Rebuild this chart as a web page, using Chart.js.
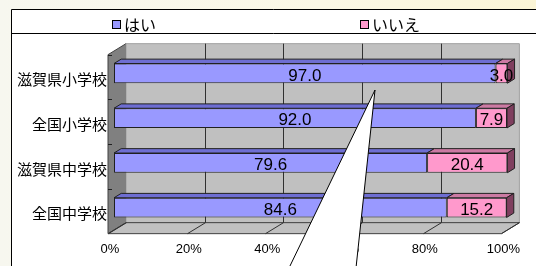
<!DOCTYPE html>
<html>
<head>
<meta charset="utf-8">
<script src="https://cdn.jsdelivr.net/npm/chart.js@4/dist/chart.umd.min.js"></script>
<style>
  html, body { margin: 0; padding: 0; }
  body { width: 536px; height: 266px; background: linear-gradient(90deg, #f7f7ef 0%, #fbf8e6 60%, #fbf5d6 100%); overflow: hidden; }
  #wrap { position: relative; width: 536px; height: 266px; }
</style>
</head>
<body>
<div id="wrap"><canvas id="chart" width="536" height="266"></canvas></div>
<script>
// データ
var schools = ['滋賀県小学校', '全国小学校', '滋賀県中学校', '全国中学校'];
var yesValues = [97.0, 92.0, 79.6, 84.6];
var noValues = [3.0, 7.9, 20.4, 15.2];
var legendNames = ['はい', 'いいえ'];
var pctTicks = [0, 20, 40, 60, 80, 100];

var jpFont = '"Noto Sans CJK JP", sans-serif';
var numFont = '"Liberation Sans", Arial, sans-serif';

// 奥行き (壁・床) と棒の奥行き
var DX = 18, DY = 11;
var BAR_DX = 7.2, BAR_DY = 4.4;

function depthPt(x, y, d) {
  return [x + (d - 1 / 3) * DX, y - (d - 1 / 3) * DY];
}

function poly(ctx, pts, fill, stroke) {
  ctx.beginPath();
  ctx.moveTo(pts[0][0], pts[0][1]);
  for (var i = 1; i < pts.length; i++) ctx.lineTo(pts[i][0], pts[i][1]);
  ctx.closePath();
  if (fill) { ctx.fillStyle = fill; ctx.fill(); }
  if (stroke) { ctx.strokeStyle = stroke; ctx.lineWidth = 1; ctx.stroke(); }
}

var faceColors = [
  { top: '#6e6ed2', side: '#5050a0' },
  { top: '#cc7aa3', side: '#7f3f5f' }
];
var legendColors = ['#9999ff', '#ff99cc'];

var threeD = {
  id: 'threeD',
  beforeDraw: function(chart) {
    var ctx = chart.ctx;
    ctx.save();
    // 白い枠
    ctx.fillStyle = '#ffffff';
    ctx.fillRect(11, 9, 536, 266);
    ctx.strokeStyle = '#000000';
    ctx.lineWidth = 1;
    ctx.beginPath();
    ctx.moveTo(11.5, 266); ctx.lineTo(11.5, 9.5); ctx.lineTo(536, 9.5);
    ctx.moveTo(11.5, 33.5); ctx.lineTo(536, 33.5);
    ctx.stroke();

    // 凡例
    var lx = [112, 360];
    ctx.font = '16px ' + jpFont;
    ctx.textBaseline = 'middle';
    ctx.textAlign = 'left';
    for (var i = 0; i < legendNames.length; i++) {
      ctx.fillStyle = legendColors[i];
      ctx.fillRect(lx[i] + 0.5, 20.5, 8, 8);
      ctx.strokeStyle = '#000';
      ctx.strokeRect(lx[i] + 0.5, 20.5, 8, 8);
      ctx.fillStyle = '#000';
      ctx.fillText(legendNames[i], lx[i] + 12, 24.5);
    }
    ctx.restore();
  },
  beforeDatasetsDraw: function(chart) {
    var ctx = chart.ctx;
    var a = chart.chartArea;
    var xs = chart.scales.x;
    var L = a.left, R = a.right, T = a.top, B = a.bottom;
    ctx.save();
    // 側壁
    poly(ctx, [depthPt(L, T, 0), depthPt(L, T, 1), depthPt(L, B, 1), depthPt(L, B, 0)], '#808080', '#404040');
    // 奥の壁
    poly(ctx, [depthPt(L, T, 1), depthPt(R, T, 1), depthPt(R, B, 1), depthPt(L, B, 1)], '#c0c0c0', '#a0a0a0');
    // 床
    poly(ctx, [depthPt(L, B, 0), depthPt(R, B, 0), depthPt(R, B, 1), depthPt(L, B, 1)], '#c0c0c0', '#404040');

    // 目盛線
    ctx.strokeStyle = '#303030';
    ctx.lineWidth = 1;
    pctTicks.forEach(function(v) {
      var x = Math.round(xs.getPixelForValue(v));
      var p1 = depthPt(x, T, 1), p2 = depthPt(x, B, 1), p3 = depthPt(x, B, 0);
      ctx.beginPath();
      if (v > 0 && v < 100) {
        ctx.moveTo(Math.round(p1[0]) + 0.5, p1[1]);
        ctx.lineTo(Math.round(p2[0]) + 0.5, p2[1]);
      }
      ctx.moveTo(p2[0] + 0.5, p2[1]);
      ctx.lineTo(p3[0] + 0.5, p3[1]);
      ctx.stroke();
    });

    // 側壁の区切り
    var band = (B - T) / schools.length;
    ctx.strokeStyle = '#202020';
    for (var k = 0; k < schools.length; k++) {
      var p = depthPt(L, T + band * k, 0);
      ctx.beginPath();
      ctx.moveTo(p[0], Math.round(p[1]) + 0.5);
      ctx.lineTo(p[0] + 4, Math.round(p[1]) + 0.5);
      ctx.stroke();
    }
    ctx.restore();
  },
  afterDatasetsDraw: function(chart) {
    var ctx = chart.ctx;
    ctx.save();
    var nSets = chart.data.datasets.length;
    chart.data.datasets.forEach(function(ds, di) {
      var meta = chart.getDatasetMeta(di);
      meta.data.forEach(function(el) {
        var x0 = Math.min(el.base, el.x), x1 = Math.max(el.base, el.x);
        var top = el.y - el.height / 2, bot = el.y + el.height / 2;
        poly(ctx, [[x0, top], [x1, top], [x1 + BAR_DX, top - BAR_DY], [x0 + BAR_DX, top - BAR_DY]], faceColors[di].top, '#202020');
        if (di === nSets - 1) {
          poly(ctx, [[x1, top], [x1 + BAR_DX, top - BAR_DY], [x1 + BAR_DX, bot - BAR_DY], [x1, bot]], faceColors[di].side, '#202020');
        }
      });
    });
    // 値ラベル
    ctx.font = '17px ' + numFont;
    ctx.fillStyle = '#000';
    ctx.textAlign = 'center';
    ctx.textBaseline = 'middle';
    chart.data.datasets.forEach(function(ds, di) {
      var meta = chart.getDatasetMeta(di);
      meta.data.forEach(function(el, i) {
        ctx.fillText(ds.data[i].toFixed(1), (el.base + el.x) / 2, el.y + 2.5);
      });
    });
    ctx.restore();
  },
  afterDraw: function(chart) {
    // 吹き出しの先端
    var ctx = chart.ctx;
    ctx.save();
    ctx.beginPath();
    ctx.moveTo(289, 268);
    ctx.lineTo(375, 90);
    ctx.lineTo(356, 268);
    ctx.closePath();
    ctx.fillStyle = '#ffffff';
    ctx.fill();
    ctx.strokeStyle = '#000';
    ctx.lineWidth = 1;
    ctx.beginPath();
    ctx.moveTo(289, 268); ctx.lineTo(375, 90); ctx.lineTo(356, 268);
    ctx.stroke();
    ctx.restore();
  }
};

new Chart(document.getElementById('chart'), {
  type: 'bar',
  data: {
    labels: schools,
    datasets: [
      { label: legendNames[0], data: yesValues, backgroundColor: '#9999ff', borderColor: '#202020', borderWidth: 1, borderSkipped: false },
      { label: legendNames[1], data: noValues, backgroundColor: '#ff99cc', borderColor: '#202020', borderWidth: 1, borderSkipped: false }
    ]
  },
  options: {
    indexAxis: 'y',
    responsive: false,
    animation: false,
    layout: { padding: { top: 51, right: 23, left: 0, bottom: 0 } },
    datasets: { bar: { categoryPercentage: 1, barPercentage: 0.44 } },
    plugins: { legend: { display: false }, tooltip: { enabled: false } },
    scales: {
      x: {
        stacked: true,
        min: 0,
        max: 100,
        afterBuildTicks: function(scale) { scale.ticks = pctTicks.map(function(v) { return { value: v }; }); },
        afterFit: function(scale) { scale.height = 36; },
        grid: { display: false, drawTicks: false },
        border: { display: false },
        ticks: {
          padding: 12,
          labelOffset: -4,
          color: '#000',
          font: { family: numFont, size: 13 },
          callback: function(v) { return v + '%'; }
        }
      },
      y: {
        stacked: true,
        afterFit: function(scale) { scale.width = 114; },
        grid: { display: false, drawTicks: false },
        border: { display: false },
        ticks: {
          padding: 7,
          labelOffset: 6,
          color: '#000',
          font: { family: jpFont, size: 15 }
        }
      }
    }
  },
  plugins: [threeD]
});
</script>
</body>
</html>
